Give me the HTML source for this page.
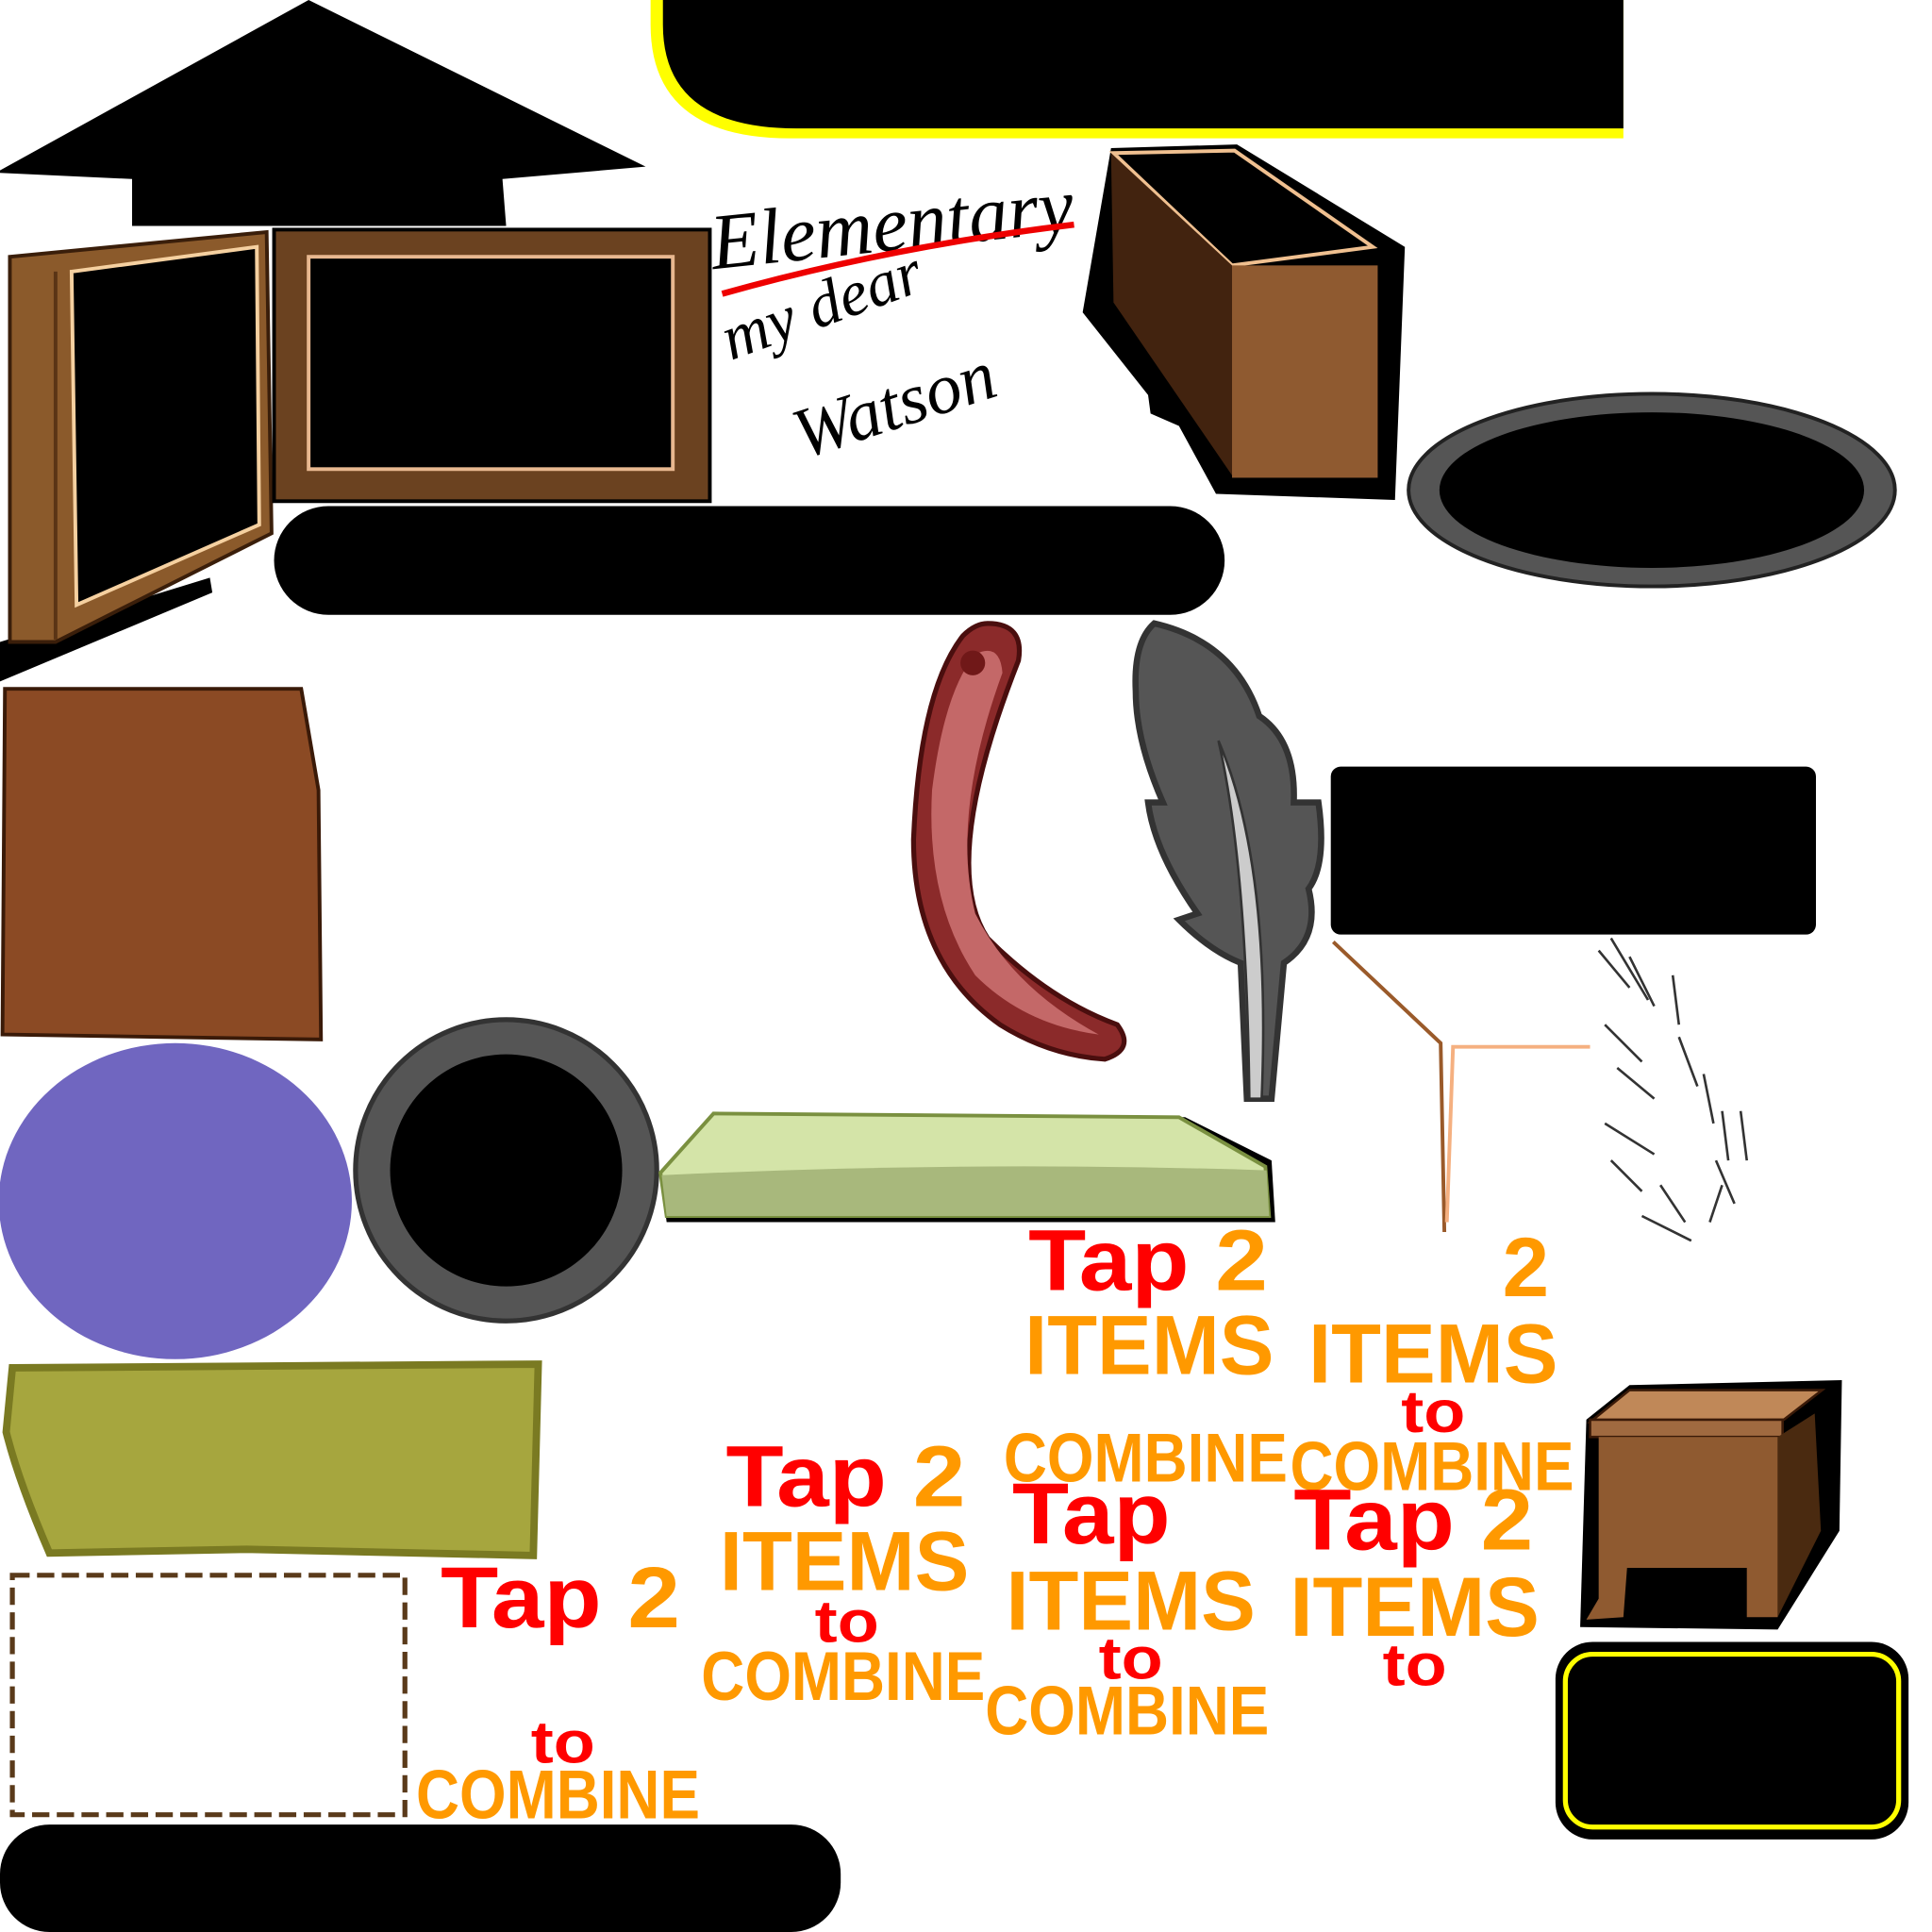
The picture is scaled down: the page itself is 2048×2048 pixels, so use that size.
<!DOCTYPE html>
<html><head><meta charset="utf-8"><style>
html,body{margin:0;padding:0;background:#fff;width:2048px;height:2048px;overflow:hidden}
svg{display:block}
.t{font-family:"Liberation Sans",sans-serif;font-weight:bold}
</style></head><body>
<svg width="2048" height="2048" viewBox="0 0 1565 1565" preserveAspectRatio="none" xmlns="http://www.w3.org/2000/svg">
<polygon points="0,138 250,0 523,135 407,145 410,183 107,183 107,145 0,140" fill="#000"/>
<path d="M527,0 H1315 V112 H640 Q527,112 527,20 Z" fill="#ff0"/>
<path d="M537,0 H1315 V104 H645 Q537,104 537,20 Z" fill="#000"/>
<polygon points="0,520 170,468 172,480 0,552" fill="#000"/>
<polygon points="8,208 216,188 220,432 45,520 8,520" fill="#8b5a2b" stroke="#3a1e0a" stroke-width="3"/>
<polygon points="58,220 208,200 210,425 62,490" fill="#000" stroke="#f5d0a0" stroke-width="3"/>
<line x1="45" y1="220" x2="45" y2="518" stroke="#5a3415" stroke-width="3"/>
<rect x="222" y="186" width="353" height="220" fill="#6b4220" stroke="#000" stroke-width="3"/>
<rect x="250" y="208" width="295" height="172" fill="#000" stroke="#e8b890" stroke-width="3"/>
<text x="578" y="218" font-family="Liberation Serif,serif" font-style="italic" font-size="64" fill="#000" transform="rotate(-6 578 218)">Elementary</text>
<path d="M585,238 Q720,200 870,182" stroke="#e00" stroke-width="5" fill="none"/>
<text x="592" y="292" font-family="Liberation Serif,serif" font-style="italic" font-size="52" fill="#000" transform="rotate(-20 592 292)">my dear</text>
<text x="650" y="372" font-family="Liberation Serif,serif" font-style="italic" font-size="58" fill="#000" transform="rotate(-18 650 372)">Watson</text>
<polygon points="877,253 930,320 932,335 955,345 985,400 1130,405 1138,200 1002,117 900,120" fill="#000"/>
<polygon points="902,124 1000,122 1112,200 998,215" fill="#000" stroke="#f0c090" stroke-width="3"/>
<polygon points="900,124 998,215 998,385 902,245" fill="#42230f"/>
<rect x="998" y="215" width="118" height="172" fill="#8f5a30"/>
<rect x="222" y="410" width="770" height="88" rx="44" fill="#000"/>
<ellipse cx="1338" cy="397" rx="197" ry="78" fill="#555" stroke="#222" stroke-width="3"/>
<ellipse cx="1338" cy="397" rx="172" ry="63" fill="#000"/>
<polygon points="4,558 244,558 258,640 260,842 2,838" fill="#8b4a24" stroke="#3a1a08" stroke-width="3"/>
<ellipse cx="142" cy="973" rx="143" ry="128" fill="#7066c0"/>
<circle cx="410" cy="948" r="122" fill="#555" stroke="#333" stroke-width="4"/>
<circle cx="410" cy="948" r="94" fill="#000"/>
<path d="M535,950 L578,902 L960,905 L1030,940 L1033,990 L540,990 Z" fill="#000"/>
<path d="M535,950 L578,902 L955,905 L1025,945 L1028,985 L540,985 Z" fill="#d4e4a8" stroke="#7a9040" stroke-width="3"/>
<path d="M536,952 Q780,940 1026,948 L1028,985 L540,985 Z" fill="#a8b87c"/>
<path d="M800,505 Q830,505 825,535 Q760,700 800,760 Q850,810 905,830 Q920,850 895,858 Q850,855 810,830 Q740,780 740,680 Q745,560 780,515 Q790,505 800,505 Z" fill="#8b2a2a" stroke="#4a0e0e" stroke-width="4"/>
<path d="M790,530 Q810,520 812,545 Q770,660 790,740 Q820,800 890,838 Q830,830 790,790 Q750,730 755,640 Q765,560 790,530 Z" fill="#c46868"/>
<circle cx="788" cy="537" r="10" fill="#701818"/>
<path d="M935,505 Q1000,520 1020,580 Q1050,600 1048,650 L1068,650 Q1075,700 1060,720 Q1070,760 1040,780 L1030,890 L1010,890 L1005,780 Q980,770 955,745 L970,740 Q935,690 930,650 L942,650 Q920,600 920,560 Q918,520 935,505 Z" fill="#555" stroke="#333" stroke-width="5"/>
<path d="M987,600 Q1030,700 1022,890 L1012,890 Q1010,700 987,600 Z" fill="#ccc" stroke="#333" stroke-width="2"/>
<rect x="1078" y="621" width="393" height="136" rx="8" fill="#000"/>
<path d="M1080,763 L1167,845 L1170,998" stroke="#9a5a2a" stroke-width="3" fill="none"/>
<path d="M1288,848 L1177,848 L1172,990" stroke="#f5b080" stroke-width="3" fill="none"/>
<g stroke="#333" stroke-width="2" fill="none">
<path d="M1295,770 L1320,800 M1305,760 L1335,810 M1320,775 L1340,815 M1355,790 L1360,830 M1300,830 L1330,860 M1310,865 L1340,890 M1300,910 L1340,935 M1305,940 L1330,965 M1360,840 L1375,880 M1380,870 L1388,910 M1395,900 L1400,940 M1390,940 L1405,975 M1410,900 L1415,940 M1330,985 L1370,1005 M1345,960 L1365,990 M1395,960 L1385,990"/>
</g>
<path d="M10,1108 L436,1105 L432,1260 L200,1255 L40,1258 Q15,1200 5,1160 Z" fill="#a6a63e" stroke="#7a7a22" stroke-width="6"/>
<rect x="10" y="1276" width="318" height="194" fill="none" stroke="#5a3a1a" stroke-width="4" stroke-dasharray="14,6"/>
<rect x="0" y="1478" width="681" height="87" rx="40" fill="#000"/>
<polygon points="1285,1150 1320,1122 1492,1118 1490,1240 1440,1320 1280,1318" fill="#000"/>
<polygon points="1288,1152 1320,1126 1476,1126 1445,1150" fill="#c08858" stroke="#3a1a08" stroke-width="2"/>
<rect x="1288" y="1150" width="156" height="14" fill="#a06a40" stroke="#3a1a08" stroke-width="2"/>
<polygon points="1295,1164 1440,1164 1440,1310 1415,1310 1415,1270 1318,1270 1315,1310 1285,1312 1295,1295" fill="#8f5a30"/>
<polygon points="1440,1164 1470,1145 1475,1240 1440,1310" fill="#4a2a10"/>
<rect x="1260" y="1330" width="286" height="160" rx="30" fill="#000"/>
<rect x="1268" y="1340" width="270" height="140" rx="22" fill="none" stroke="#ff0" stroke-width="4"/>
<g class="t" lengthAdjust="spacingAndGlyphs">
<text x="833" y="1045" font-size="70" textLength="194" lengthAdjust="spacingAndGlyphs"><tspan fill="#f00">Tap</tspan><tspan fill="#f90"> 2</tspan></text>
<text x="830" y="1113" font-size="68" fill="#f90" textLength="202" lengthAdjust="spacingAndGlyphs">ITEMS</text>
<text x="1217" y="1050" font-size="68" fill="#f90">2</text>
<text x="1060" y="1120" font-size="68" fill="#f90" textLength="202" lengthAdjust="spacingAndGlyphs">ITEMS</text>
<text x="1135" y="1160" font-size="48" fill="#f00" textLength="52" lengthAdjust="spacingAndGlyphs">to</text>
<text x="813" y="1200" font-size="56" fill="#f90" textLength="230" lengthAdjust="spacingAndGlyphs">COMBINE</text>
<text x="1045" y="1207" font-size="56" fill="#f90" textLength="230" lengthAdjust="spacingAndGlyphs">COMBINE</text>
<text x="588" y="1220" font-size="70" textLength="194" lengthAdjust="spacingAndGlyphs"><tspan fill="#f00">Tap</tspan><tspan fill="#f90"> 2</tspan></text>
<text x="583" y="1288" font-size="68" fill="#f90" textLength="202" lengthAdjust="spacingAndGlyphs">ITEMS</text>
<text x="660" y="1330" font-size="48" fill="#f00" textLength="52" lengthAdjust="spacingAndGlyphs">to</text>
<text x="568" y="1377" font-size="56" fill="#f90" textLength="230" lengthAdjust="spacingAndGlyphs">COMBINE</text>
<text x="820" y="1250" font-size="70" fill="#f00" textLength="128" lengthAdjust="spacingAndGlyphs">Tap</text>
<text x="1048" y="1255" font-size="70" textLength="194" lengthAdjust="spacingAndGlyphs"><tspan fill="#f00">Tap</tspan><tspan fill="#f90"> 2</tspan></text>
<text x="815" y="1320" font-size="68" fill="#f90" textLength="202" lengthAdjust="spacingAndGlyphs">ITEMS</text>
<text x="1045" y="1325" font-size="68" fill="#f90" textLength="202" lengthAdjust="spacingAndGlyphs">ITEMS</text>
<text x="890" y="1360" font-size="48" fill="#f00" textLength="52" lengthAdjust="spacingAndGlyphs">to</text>
<text x="1120" y="1365" font-size="48" fill="#f00" textLength="52" lengthAdjust="spacingAndGlyphs">to</text>
<text x="798" y="1405" font-size="56" fill="#f90" textLength="230" lengthAdjust="spacingAndGlyphs">COMBINE</text>
<text x="357" y="1318" font-size="70" textLength="194" lengthAdjust="spacingAndGlyphs"><tspan fill="#f00">Tap</tspan><tspan fill="#f90"> 2</tspan></text>
<text x="430" y="1428" font-size="48" fill="#f00" textLength="52" lengthAdjust="spacingAndGlyphs">to</text>
<text x="337" y="1473" font-size="56" fill="#f90" textLength="230" lengthAdjust="spacingAndGlyphs">COMBINE</text>
</g>
</svg>
</body></html>
